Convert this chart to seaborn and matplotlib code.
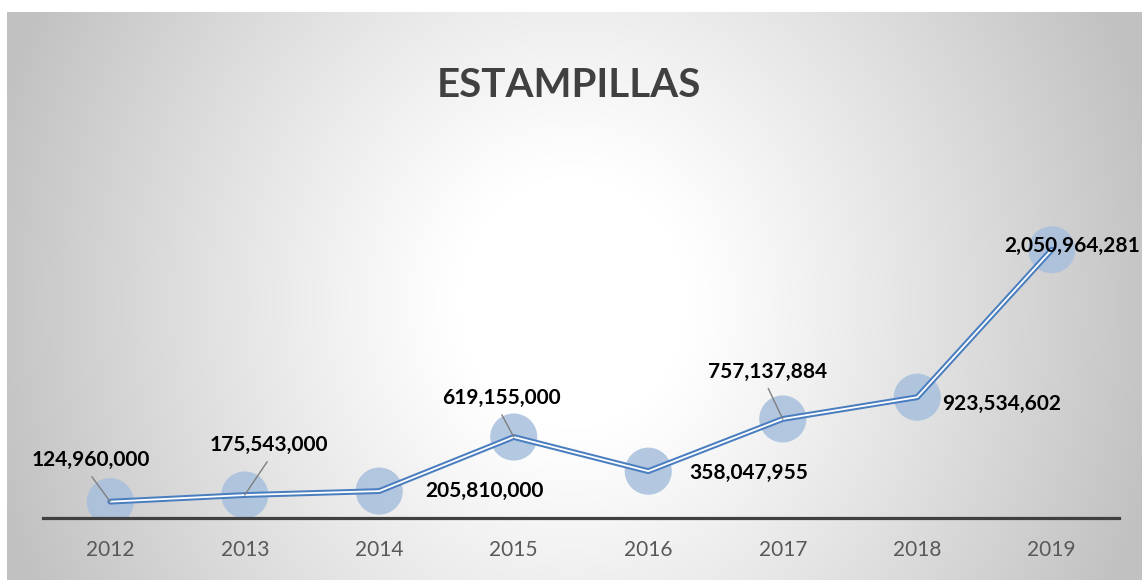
import numpy as np
import pandas as pd
import matplotlib
matplotlib.use("Agg")
import matplotlib.pyplot as plt
import seaborn as sns

# data
years = ["2012", "2013", "2014", "2015", "2016", "2017", "2018", "2019"]
values = [124960000, 175543000, 205810000, 619155000,
          358047955, 757137884, 923534602, 2050964281]

# label offsets in points (dx, dy) and whether a leader line is drawn
label_offsets = [(-14, 30), (17, 36), (76, 0), (-9, 28), (72, -1), (-11, 34), (61, -5), (15, 3)]
leaders = [True, True, False, True, False, True, False, False]

df = pd.DataFrame({"year": years, "value": values})

sns.set_style("white")
plt.rcParams["font.family"] = ["Lato", "DejaVu Sans"]

fig = plt.figure(figsize=(11.42, 5.8), dpi=100)

# radial grey background
bg = fig.add_axes([7 / 1142, 0, 1 - 7 / 1142, 568 / 580], zorder=-5)
W, H = 1135, 568
xx, yy = np.meshgrid(np.arange(W), np.arange(H))
r = np.sqrt(((xx - 565) / 640) ** 2 + ((yy - 290) / 700) ** 2)
g = 1 - 0.24 * np.clip((r - 0.18) / 0.75, 0, 1) ** 1.1
bg.imshow(np.dstack([g, g, g]), aspect="auto", extent=[0, 1, 0, 1])
bg.set_axis_off()

ax = fig.add_axes([43 / 1142, 62 / 580, 1076 / 1142, 327 / 580])
ax.set_facecolor("none")

sns.scatterplot(data=df, x="year", y="value", s=1150, color="#a7bfdd",
                alpha=0.85, edgecolor="none", ax=ax, zorder=2)
sns.lineplot(data=df, x="year", y="value", color="#4a7ebf", lw=4.2, ax=ax,
             zorder=3, sort=False)
sns.lineplot(data=df, x="year", y="value", color="white", lw=1.3, ax=ax,
             zorder=4, sort=False)

ax.set_xlim(-0.5, 7.5)
ax.set_ylim(0, 2500000000)

for i, v in enumerate(values):
    dx, dy = label_offsets[i]
    ax.annotate(f"{v:,}", (i, v), xytext=(dx, dy), textcoords="offset points",
                ha="center", va="center", fontsize=15, fontweight="bold",
                color="black", zorder=5, annotation_clip=False)
    if leaders[i]:
        ax.annotate("", (i, v), xytext=(dx * 0.95, dy - 12), textcoords="offset points",
                    arrowprops=dict(arrowstyle="-", color="#7f7f7f", lw=1.0,
                                    shrinkA=0, shrinkB=0), zorder=5)

sns.despine(ax=ax, left=True, top=True, right=True)
ax.spines["bottom"].set_color("#404040")
ax.spines["bottom"].set_linewidth(2.3)
ax.set_yticks([])
ax.set_xlabel("")
ax.set_ylabel("")
ax.tick_params(axis="x", length=0, pad=16, labelsize=15, labelcolor="#595959")

fig.text(0.498, 0.853, "ESTAMPILLAS", ha="center", va="center",
         fontsize=29, fontweight="bold", color="#404040")

fig.savefig("out.png", dpi=100)
